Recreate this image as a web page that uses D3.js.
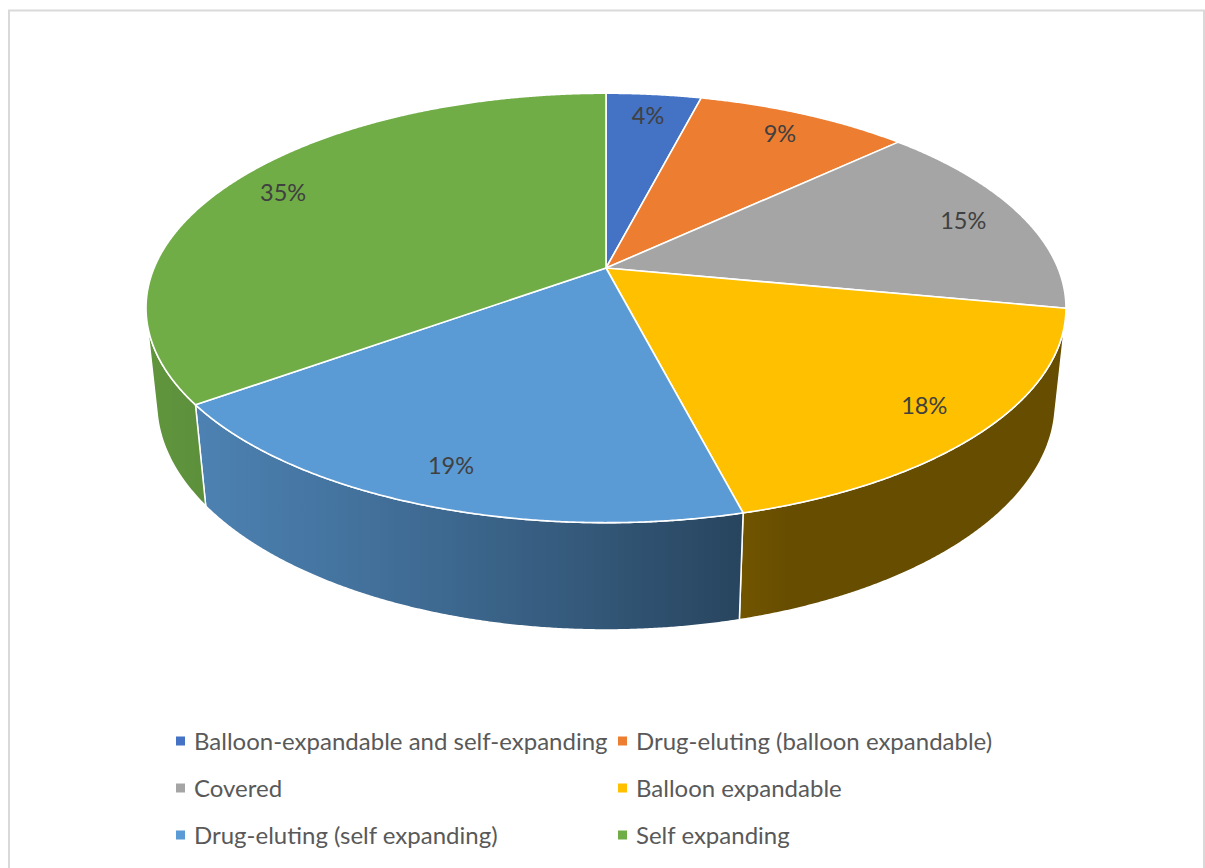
<!DOCTYPE html>
<html>
<head>
<meta charset="utf-8">
<script src="https://cdn.jsdelivr.net/npm/d3@7"></script>
<style>
  body { margin: 0; background: #fff; }
  svg { display: block; font-family: Lato, "Open Sans", sans-serif; }
</style>
</head>
<body>
<svg id="chart" width="1205" height="868"></svg>
<script>
// ---- data ----
const categories = [
  "Balloon-expandable and self-expanding",
  "Drug-eluting (balloon expandable)",
  "Covered",
  "Balloon expandable",
  "Drug-eluting (self expanding)",
  "Self expanding"
];
const shares = [4, 9, 15, 18, 19, 35];
const colors = ["#4472C4", "#ED7D31", "#A5A5A5", "#FFC000", "#5B9BD5", "#70AD47"];

// ---- 3D view of the tilted disk (unit radius) ----
const view = { cx: 606, cy: 268, f: 2158, dist: 4.775, tilt: 27.3 * Math.PI / 180, thick: 0.238 };
const S = Math.sin(view.tilt), C = Math.cos(view.tilt);

// phi: clockwise from 12 o'clock, r: radius, h: height above the top face
function project(phi, r, h) {
  const u = r * Math.sin(phi), v = -r * Math.cos(phi);
  const Y = v * S - h * C;
  const Z = view.dist - v * C - h * S;
  return [view.cx + view.f * u / Z, view.cy + view.f * Y / Z];
}

// side wall faces the camera where cos(phi) < -1/(dist*cos(tilt))
const wallMin = Math.acos(-1 / (view.dist * C));
const wallMax = 2 * Math.PI - wallMin;

// side lighting: ambient + diffuse from the lower left
const lightDir = 250 * Math.PI / 180;
const shadeK = phi => 0.4 + 0.45 * Math.max(0, Math.cos(phi - lightDir));
function shade(col, k) {
  const c = d3.rgb(col);
  return d3.rgb(c.r * k, c.g * k, c.b * k).formatHex();
}

const svg = d3.select("#chart");
const defs = svg.append("defs");

// chart frame
svg.append("rect")
  .attr("x", 9).attr("y", 10.5).attr("width", 1195).attr("height", 880)
  .attr("fill", "#fff").attr("stroke", "#D9D9D9").attr("stroke-width", 2);

const pie = d3.pie().sort(null).value(d => d)(shares);
const line = d3.line();
const step = Math.PI / 720;

function arcPts(a0, a1, r, h) {
  const n = Math.max(2, Math.ceil(Math.abs(a1 - a0) / step));
  return d3.range(n + 1).map(i => project(a0 + (a1 - a0) * i / n, r, h));
}

// ---- side walls ----
const walls = svg.append("g");
pie.forEach((d, i) => {
  const a0 = Math.max(d.startAngle, wallMin), a1 = Math.min(d.endAngle, wallMax);
  if (a1 <= a0) return;
  const hMid = -view.thick / 2;
  const xA = project(a0, 1, hMid)[0], xB = project(a1, 1, hMid)[0];
  const gid = "wall" + i;
  const g = defs.append("linearGradient").attr("id", gid)
    .attr("gradientUnits", "userSpaceOnUse")
    .attr("x1", xA).attr("y1", 0).attr("x2", xB).attr("y2", 0);
  const ns = 24;
  d3.range(ns + 1).forEach(j => {
    const p = a0 + (a1 - a0) * j / ns;
    const x = project(p, 1, hMid)[0];
    g.append("stop")
      .attr("offset", Math.min(1, Math.max(0, (x - xA) / (xB - xA))))
      .attr("stop-color", shade(colors[i], shadeK(p)));
  });
  const pts = arcPts(a0, a1, 1, 0).concat(arcPts(a1, a0, 1, -view.thick));
  walls.append("path")
    .attr("d", line(pts) + "Z")
    .attr("fill", `url(#${gid})`)
    .attr("stroke", "#fff").attr("stroke-width", 1.5).attr("stroke-linejoin", "round");
});

// ---- top faces ----
const tops = svg.append("g");
pie.forEach((d, i) => {
  const pts = [project(0, 0, 0)].concat(arcPts(d.startAngle, d.endAngle, 1, 0));
  tops.append("path")
    .attr("d", line(pts) + "Z")
    .attr("fill", colors[i])
    .attr("stroke", "#fff").attr("stroke-width", 1.6).attr("stroke-linejoin", "round");
});

// ---- data labels ----
svg.append("g").selectAll("text").data(pie).join("text")
  .attr("x", d => project((d.startAngle + d.endAngle) / 2, 0.86, 0)[0])
  .attr("y", d => project((d.startAngle + d.endAngle) / 2, 0.86, 0)[1])
  .attr("text-anchor", "middle").attr("dy", "0.36em")
  .attr("font-size", 23.5).attr("fill", "#404040")
  .text(d => d.data + "%");

// ---- legend ----
const legendCols = [176, 618];
const legendRow0 = 741, legendRowGap = 47;
const legend = svg.append("g").selectAll("g").data(categories).join("g")
  .attr("transform", (d, i) => `translate(${legendCols[i % 2]},${legendRow0 + Math.floor(i / 2) * legendRowGap})`);
legend.append("rect")
  .attr("x", 0).attr("y", -4.5).attr("width", 9).attr("height", 9)
  .attr("fill", (d, i) => colors[i]);
legend.append("text")
  .attr("x", 18).attr("y", 0).attr("dy", "0.36em")
  .attr("font-size", 24).attr("fill", "#595959")
  .text(d => d);
</script>
</body>
</html>
